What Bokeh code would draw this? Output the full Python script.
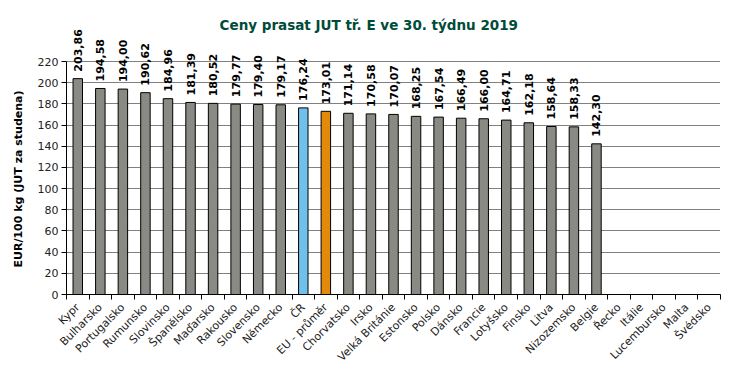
import math
import numpy as np
from bokeh.plotting import figure
from bokeh.models import Range1d, FixedTicker, ColumnDataSource, Label, Title
from bokeh.core.properties import value
from bokeh.embed import file_html
from bokeh.resources import INLINE

categories = ["Kypr", "Bulharsko", "Portugalsko", "Rumunsko", "Slovinsko", "Španělsko",
              "Maďarsko", "Rakousko", "Slovensko", "Německo", "ČR", "EU - průměr",
              "Chorvatsko", "Irsko", "Velká Británie", "Estonsko", "Polsko", "Dánsko",
              "Francie", "Lotyšsko", "Finsko", "Litva", "Nizozemsko", "Belgie",
              "Řecko", "Itálie", "Lucembursko", "Malta", "Švédsko"]
prices = [203.86, 194.58, 194.00, 190.62, 184.96, 181.39, 180.52, 179.77, 179.40, 179.17,
          176.24, 173.01, 171.14, 170.58, 170.07, 168.25, 167.54, 166.49, 166.00, 164.71,
          162.18, 158.64, 158.33, 142.30]
highlight = {"ČR": "#6fc1eb", "EU - průměr": "#e38a0d"}
y_ticks = list(range(0, 221, 20))
title_text = "Ceny prasat JUT  tř. E  ve 30. týdnu 2019"
y_label = "EUR/100 kg (JUT za studena)"

FONT = "DejaVu Sans"
n = len(categories)
centers = np.arange(n) + 0.5
m = len(prices)
bar_colors = [highlight.get(c, "#8a8a84") for c in categories[:m]]
labels = [f"{v:.2f}".replace(".", ",") for v in prices]

src = ColumnDataSource(dict(x=centers[:m], top=prices, color=bar_colors, label=labels))

p = figure(width=734, height=386, output_backend="svg", toolbar_location=None,
           x_range=Range1d(0, n), y_range=Range1d(0, 272), title=None,
           min_border_left=66, min_border_right=14, min_border_bottom=92, min_border_top=6)
p.outline_line_color = None
p.background_fill_color = "white"
p.border_fill_color = "white"

p.vbar(x="x", top="top", width=0.42, source=src, fill_color="color",
       line_color="black", line_width=1)
p.text(x="x", y="top", text="label", source=src, angle=math.pi / 2,
       text_align="left", text_baseline="middle", y_offset=-7,
       text_font=value(FONT), text_font_size="11px", text_font_style="bold",
       text_color="black")

# chart title (inside the tall frame, positioned in screen units)
p.add_layout(Label(x=307, y=270, x_units="screen", y_units="screen", text=title_text,
                   text_align="center", text_baseline="middle", text_font=FONT,
                   text_font_size="13.5px", text_font_style="bold", text_color="#004b3a"))

# y axis title
p.add_layout(Title(text=y_label, align="left", offset=27, standoff=19, text_font=FONT,
                   text_font_size="11px", text_font_style="bold", text_color="black"), "left")

# x axis
xa = p.xaxis[0]
xa.ticker = FixedTicker(ticks=list(centers), minor_ticks=list(range(0, n + 1)))
xa.major_label_overrides = {float(c): cat for c, cat in zip(centers, categories)}
xa.major_tick_line_color = None
xa.minor_tick_line_color = "black"
xa.minor_tick_out = 5
xa.minor_tick_in = 0
xa.major_label_orientation = math.pi / 4
xa.major_label_text_font = FONT
xa.major_label_text_font_size = "11px"
xa.major_label_text_color = "#222222"
xa.major_label_standoff = 5
xa.axis_line_color = "black"
xa.axis_line_width = 1

# y axis
ya = p.yaxis[0]
ya.ticker = FixedTicker(ticks=y_ticks)
ya.bounds = (0, 220)
ya.major_label_text_font = FONT
ya.major_label_text_font_size = "11px"
ya.major_label_text_color = "#222222"
ya.major_tick_out = 5
ya.major_tick_in = 0
ya.minor_tick_line_color = None
ya.major_label_standoff = 3
ya.axis_line_color = "black"

p.xgrid.grid_line_color = None
p.ygrid.ticker = FixedTicker(ticks=y_ticks[1:])
p.ygrid.grid_line_color = "black"
p.ygrid.grid_line_dash = "1 1"
p.ygrid.grid_line_width = 1

open("out.html", "w").write(file_html(p, INLINE))
